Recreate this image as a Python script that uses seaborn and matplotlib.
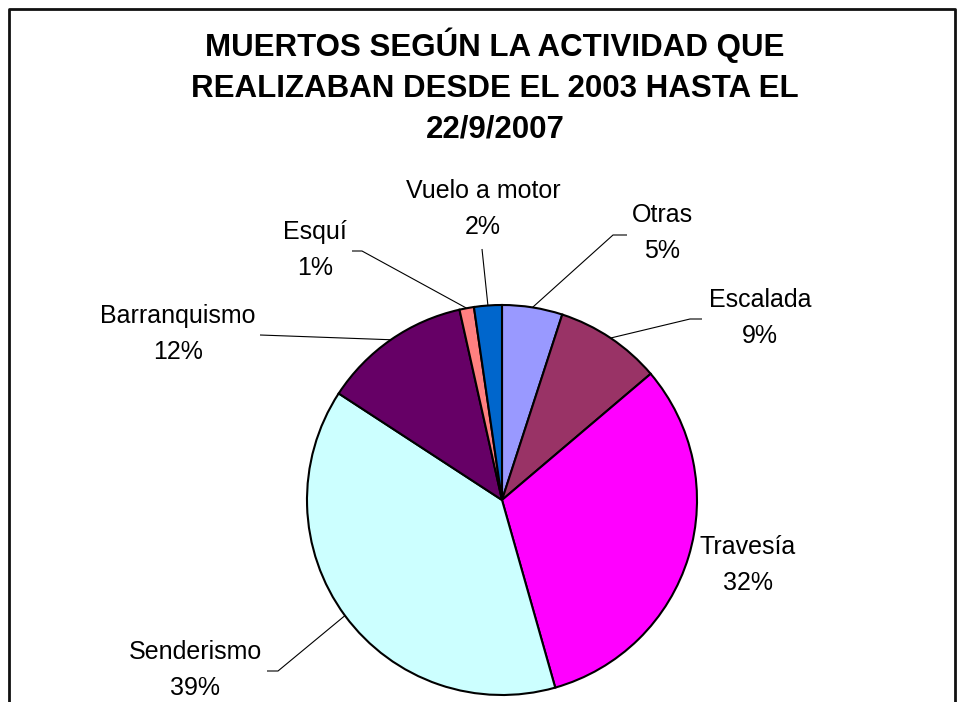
import matplotlib
matplotlib.use("Agg")
import matplotlib.pyplot as plt
import numpy as np
import seaborn as sns

# datos (porcentaje de muertos por actividad)
activities = ["Otras", "Escalada", "Travesía", "Senderismo", "Barranquismo", "Esquí", "Vuelo a motor"]
values = [5.0, 8.8, 31.8, 38.6, 12.3, 1.2, 2.3]
colors = ["#9999FF", "#993366", "#FF00FF", "#CCFFFF", "#660066", "#FF8080", "#0066CC"]
title = "MUERTOS SEGÚN LA ACTIVIDAD QUE\nREALIZABAN DESDE EL 2003 HASTA EL\n22/9/2007"

W, H = 965, 702

sns.set_theme(style="white")
plt.rcParams["font.family"] = ["Liberation Sans", "DejaVu Sans"]


def fy(y):
    # pixel row (top-down) -> data y
    return H - y


# label placement: text centre, elbow, end of leader line (pixel coords, top-down)
label_pos = {
    "Otras": ((662, 233), (613, 235), (627, 235)),
    "Escalada": ((760, 318), (690, 319), (702, 319)),
    "Travesía": ((748, 565), None, None),
    "Senderismo": ((195, 670), (278, 671), (267, 671)),
    "Barranquismo": ((178, 334), (260, 335), (260, 335)),
    "Esquí": ((315, 250), (362, 251), (352, 251)),
    "Vuelo a motor": ((483, 209), (482, 249), (482, 249)),
}

fig = plt.figure(figsize=(W / 100, H / 100), dpi=100)
ax = fig.add_axes([0, 0, 1, 1])

cx, cy, r = 502, 500, 195
wedges, _ = ax.pie(values, colors=colors, startangle=90, counterclock=False,
                   center=(cx, fy(cy)), radius=r,
                   wedgeprops=dict(edgecolor="black", linewidth=1.5))

ax.set_xlim(0, W)
ax.set_ylim(0, H)
ax.set_aspect("equal")
ax.axis("off")

total = sum(values)
for w, name, v in zip(wedges, activities, values):
    (tx, ty), elbow, end = label_pos[name]
    pct = int(v / total * 100 + 0.5)
    ax.text(tx, fy(ty), f"{name}\n{pct}%", ha="center", va="center",
            multialignment="center", fontsize=18, linespacing=1.6, color="black")
    if elbow is not None:
        mid = np.deg2rad((w.theta1 + w.theta2) / 2)
        px = cx + r * np.cos(mid)
        py_ = fy(cy) + r * np.sin(mid)
        ax.plot([px, elbow[0], end[0]], [py_, fy(elbow[1]), fy(end[1])],
                color="black", linewidth=0.8, solid_capstyle="butt")

ax.text(495, fy(86), title, ha="center", va="center", multialignment="center",
        fontsize=22.5, fontweight="bold", linespacing=1.45, color="black")

# chart area border (bottom edge falls off the picture)
ax.plot([9, 9, 955, 955], [fy(H + 5), fy(9), fy(9), fy(H + 5)],
        color="#111111", linewidth=2, clip_on=False)

fig.savefig("out.png", dpi=100)
